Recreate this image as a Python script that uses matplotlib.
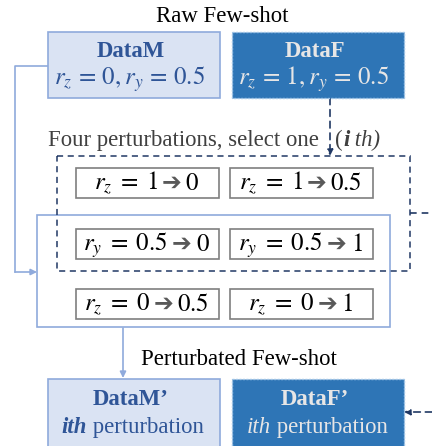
import matplotlib
matplotlib.use("Agg")
import matplotlib.pyplot as plt
from matplotlib.patches import Rectangle, FancyArrowPatch

plt.rcParams["font.family"] = ["Liberation Serif", "DejaVu Serif"]
plt.rcParams["mathtext.fontset"] = "stix"

# ---- diagram content -------------------------------------------------------
title_top = "Raw Few-shot"
title_bottom = "Perturbated Few-shot"
select_text = "Four perturbations, select one"
raw_names = ["DataM", "DataF"]
raw_params = [r"$r_z\,=\,0, r_y\,=\,0.5$", r"$r_z\,=\,1, r_y\,=\,0.5$"]
new_names = ["DataM\u2019", "DataF\u2019"]
# (variable, from, to) for the six perturbation boxes, row by row
perturbations = [
    ("r_z", "1", "0"), ("r_z", "1", "0.5"),
    ("r_y", "0.5", "0"), ("r_y", "0.5", "1"),
    ("r_z", "0", "0.5"), ("r_z", "0", "1"),
]

LIGHT_FILL = "#dae3f3"
LIGHT_EDGE = "#8faadc"
DARK_FILL = "#2e75b6"
NAVY = "#203864"
DARK_TXT = "#2f5597"
PALE_TXT = "#e7e6e6"
FS = 16.4

fig = plt.figure(figsize=(4.32, 4.46), dpi=100)
ax = fig.add_axes([0, 0, 1, 1])
ax.set_xlim(0, 432)
ax.set_ylim(446, 0)
ax.axis("off")
renderer = fig.canvas.get_renderer()


def box(x, y, w, h, fc, ec, ls="-", lw=1.2, z=2):
    ax.add_patch(Rectangle((x, y), w, h, facecolor=fc, edgecolor=ec,
                           linestyle=ls, linewidth=lw, zorder=z))


def pieces(xc, y, parts, gap=0.0):
    """Place text pieces side by side, centred on xc, on a common baseline."""
    texts = [ax.text(0, y, s, ha="left", va="baseline", zorder=5, **kw)
             for s, kw in parts]
    widths = [t.get_window_extent(renderer).width for t in texts]
    x = xc - (sum(widths) + gap * (len(texts) - 1)) / 2
    for t, w in zip(texts, widths):
        t.set_x(x)
        x += w + gap


def line(xs, ys, color, ls="-", lw=1.2):
    ax.plot(xs, ys, color=color, linestyle=ls, linewidth=lw, zorder=1)


def arrow(p0, p1, color, ls="-", lw=1.2):
    ax.add_patch(FancyArrowPatch(p0, p1, arrowstyle="-|>", mutation_scale=9,
                                 color=color, linestyle=ls, linewidth=lw,
                                 shrinkA=0, shrinkB=0, zorder=1))


# ---- top: raw few-shot ------------------------------------------------------
ax.text(222, 22, title_top, ha="center", va="baseline", fontsize=FS)
box(48, 32, 172, 66, LIGHT_FILL, LIGHT_EDGE)
box(232, 32, 172, 66, DARK_FILL, "#9dc3e6", ls=(0, (1.5, 1)), lw=1.0)
ax.text(131, 57, raw_names[0], ha="center", va="baseline", fontsize=FS,
        fontweight="bold", color=DARK_TXT)
ax.text(315, 57, raw_names[1], ha="center", va="baseline", fontsize=FS,
        fontweight="bold", color=PALE_TXT)
ax.text(129, 85, raw_params[0], ha="center", va="baseline", fontsize=18,
        color=DARK_TXT)
ax.text(313, 85, raw_params[1], ha="center", va="baseline", fontsize=18,
        color=PALE_TXT)

# selection text
ax.text(48, 146, select_text, ha="left", va="baseline", fontsize=FS,
        color="#404040")
pieces(358, 146, [("(", dict(fontsize=FS, color="#404040")),
                  ("i", dict(fontsize=FS, color="#404040", style="italic",
                             fontweight="bold")),
                  (" th)", dict(fontsize=FS, color="#404040", style="italic"))])

# ---- perturbation block -----------------------------------------------------
box(37, 215, 353, 112, "none", LIGHT_EDGE, z=1)
box(57, 156, 353, 115, "none", NAVY, ls=(0, (4, 3)), lw=1.1, z=1)

col_x = [76, 230]
row_y = [168, 229, 289]
bw, bh = 143, 30
for k, (var, a, b) in enumerate(perturbations):
    x, y = col_x[k % 2], row_y[k // 2]
    box(x, y, bw, bh, "white", "#7f7f7f", lw=1.2, z=3)
    pieces(x + bw / 2 - 1, y + 22,
           [(rf"${var}\;=\;{a}$", dict(fontsize=18, color="black")),
            ("\u2794", dict(fontsize=17, color="#595959",
                            family="DejaVu Sans", fontweight="bold")),
            (rf"${b}$", dict(fontsize=18, color="black"))], gap=4)

# connectors
line([48, 15, 15], [66, 66, 272], LIGHT_EDGE)
arrow((15, 272), (37, 272), LIGHT_EDGE)
arrow((330, 98), (330, 156), NAVY, ls=(0, (4, 3)))
line([410, 432], [213, 213], NAVY, ls=(0, (4, 3)))
arrow((123, 328), (123, 378), LIGHT_EDGE)

# ---- bottom: perturbated few-shot ------------------------------------------
ax.text(239, 365, title_bottom, ha="center", va="baseline", fontsize=FS)
box(48, 379, 172, 80, LIGHT_FILL, LIGHT_EDGE)
box(232, 379, 172, 80, DARK_FILL, "#9dc3e6", ls=(0, (1.5, 1)), lw=1.0)
ax.text(131, 405, new_names[0], ha="center", va="baseline", fontsize=FS,
        fontweight="bold", color=DARK_TXT)
ax.text(315, 405, new_names[1], ha="center", va="baseline", fontsize=FS,
        fontweight="bold", color=PALE_TXT)
pieces(133, 433, [("ith", dict(fontsize=FS, color=DARK_TXT, style="italic",
                               fontweight="bold")),
                  (" perturbation", dict(fontsize=FS, color=DARK_TXT))])
pieces(317, 433, [("ith", dict(fontsize=FS, color=PALE_TXT, style="italic")),
                  (" perturbation", dict(fontsize=FS, color=PALE_TXT))])
arrow((432, 412), (404, 412), NAVY, ls=(0, (4, 3)))

fig.savefig("out.png", dpi=100)
